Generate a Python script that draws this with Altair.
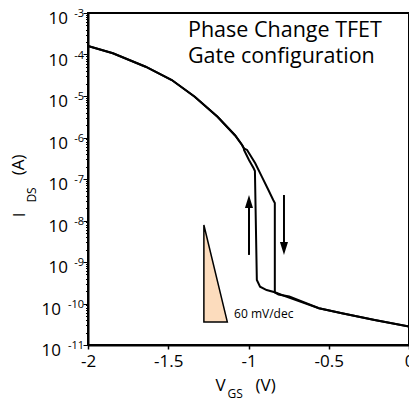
import altair as alt
import pandas as pd

FONT = "Open Sans"

# ---- I-V curve (V in volts, I in amperes) ----
common_v = [-2.0, -1.845, -1.641, -1.478, -1.335, -1.193, -1.083, -1.040, -1.029]
common_i = [1.60e-4, 1.07e-4, 5.08e-5, 2.43e-5, 9.6e-6, 3.17e-6, 1.12e-6, 6.6e-7, 5.5e-7]

up_v = [-1.028, -0.997, -0.968, -0.960, -0.948, -0.928, -0.887, -0.836, -0.765]
up_i = [5.0e-7, 2.87e-7, 1.81e-7, 1.56e-7, 3.68e-10, 2.54e-10, 2.11e-10, 1.86e-10, 1.46e-10]

down_v = [-1.009, -0.958, -0.917, -0.876, -0.846, -0.836, -0.836, -0.813, -0.746]
down_i = [5.0e-7, 2.39e-7, 1.14e-7, 5.43e-8, 3.12e-8, 2.64e-8, 1.86e-10, 1.65e-10, 1.48e-10]

tail_v = [-0.561, -0.418, -0.214, 0.0]
tail_i = [7.7e-11, 5.8e-11, 4.0e-11, 2.8e-11]

# ---- slope triangle ----
tri_v = [-1.278, -1.132]
tri_i = [7.8e-9, 3.6e-11]
tri_i2 = [3.6e-11, 3.6e-11]

# ---- sweep arrows ----
arrow_v = [-0.997, -0.779]
arrow_from = [1.48e-9, 4.11e-8]
arrow_to = [2.36e-8, 2.57e-9]
head_i = [2.87e-8, 2.11e-9]

# ---- axis tick labels ----
decades = [-3, -4, -5, -6, -7, -8, -9, -10, -11]
x_ticks = [-2, -1.5, -1, -0.5, 0]

rows = []
for name, bv, bi in [("up", up_v, up_i), ("down", down_v, down_i)]:
    vs = common_v + bv + tail_v
    cs = common_i + bi + tail_i
    for k, (v, c) in enumerate(zip(vs, cs)):
        rows.append({"sweep": name, "order": k, "V": v, "I": c})
curve = pd.DataFrame(rows)

xs = alt.Scale(domain=[-2, 0], nice=False)
ys = alt.Scale(type="log", domain=[1e-11, 1e-3], nice=False)

y_tick_vals = [m * 10.0 ** e for e in range(-11, -3) for m in range(1, 10)] + [1e-3]

xaxis = alt.Axis(values=x_ticks, title=None, grid=False, domainColor="black", domainWidth=2,
                 tickColor="black", tickSize=4, tickWidth=1.5, labelFont=FONT, labelFontSize=17,
                 labelColor="black", labelPadding=4, labelExpr="'' + datum.value", labelFlush=False)
yaxis = alt.Axis(values=y_tick_vals, title=None, grid=False, labels=False, domainColor="black",
                 domainWidth=2, tickColor="black", tickWidth=1,
                 tickSize={"condition": {"test": "abs(log(datum.value)/LN10 - round(log(datum.value)/LN10)) < 0.001",
                                         "value": 5}, "value": 2.5})


def X(f):
    return alt.X(f, type="quantitative", scale=xs, axis=xaxis)


def Y(f):
    return alt.Y(f, type="quantitative", scale=ys, axis=yaxis)


tri_df = pd.DataFrame({"V": tri_v, "I": tri_i, "I2": tri_i2})
triangle = alt.Chart(tri_df).mark_area(fill="#FCDCBD", stroke="black", strokeWidth=1.5, opacity=1).encode(
    x=X("V"), y=Y("I"), y2="I2")

lines = alt.Chart(curve).mark_line(color="black", strokeWidth=2).encode(
    x=X("V"), y=Y("I"), detail="sweep:N", order="order:Q")

arr_df = pd.DataFrame({"V": arrow_v, "I": arrow_from, "I2": arrow_to, "H": head_i,
                       "dir": ["up", "down"]})
shafts = alt.Chart(arr_df).mark_rule(color="black", strokeWidth=2).encode(
    x=X("V"), y=Y("I"), y2="I2")
head_up = alt.Chart(arr_df).mark_point(shape="M0,-1L0.62,1L-0.62,1Z", filled=True, size=169,
                                       color="black", opacity=1).encode(
    x=X("V"), y=Y("H")).transform_filter("datum.dir == 'up'")
head_down = alt.Chart(arr_df).mark_point(shape="M0,1L0.62,-1L-0.62,-1Z", filled=True, size=169,
                                         color="black", opacity=1).encode(
    x=X("V"), y=Y("H")).transform_filter("datum.dir == 'down'")

lab = pd.DataFrame({"V": [-2] * len(decades), "I": [10.0 ** e for e in decades],
                    "base": ["10"] * len(decades), "exp": [str(e) for e in decades],
                    "wide": [e <= -10 for e in decades]})
ten_narrow = alt.Chart(lab).mark_text(align="right", baseline="middle", dx=-20, dy=6, font=FONT,
                                      fontSize=17, color="black").encode(
    x=X("V"), y=Y("I"), text="base:N").transform_filter("!datum.wide")
ten_wide = alt.Chart(lab).mark_text(align="right", baseline="middle", dx=-27, dy=6, font=FONT,
                                    fontSize=17, color="black").encode(
    x=X("V"), y=Y("I"), text="base:N").transform_filter("datum.wide")
exps = alt.Chart(lab).mark_text(align="right", baseline="middle", dx=-4, dy=1, font=FONT,
                                fontSize=11, color="black").encode(
    x=X("V"), y=Y("I"), text="exp:N")

# annotation texts: anchor in data space, pixel offsets for sub/superscripts
ann = pd.DataFrame({
    "V": [-1.377, -1.377, -1.09, -1.205, -1.205, -1.205, -2, -2, -2],
    "I": [2.64e-4, 2.64e-4, 5.7e-11, 1e-11, 1e-11, 1e-11, 1.36e-8, 1.36e-8, 1.36e-8],
    "t": ["Phase Change TFET", "Gate configuration", "60 mV/dec", "V", "GS", "(V)", "I", "DS", "(A)"],
    "k": ["t1", "t2", "slope", "xv", "xgs", "xu", "yi", "yds", "yu"],
})


def txt(key, **kw):
    base = dict(font=FONT, color="black")
    base.update(kw)
    return alt.Chart(ann).mark_text(**base).encode(x=X("V"), y=Y("I"), text="t:N").transform_filter(
        f"datum.k == '{key}'")


texts = [
    txt("t1", align="left", baseline="alphabetic", fontSize=21.5),
    txt("t2", align="left", baseline="alphabetic", fontSize=21.5, dy=26),
    txt("slope", align="left", baseline="middle", fontSize=12),
    txt("xv", align="left", baseline="middle", fontSize=17, dy=41),
    txt("xgs", align="left", baseline="middle", fontSize=12, dx=12, dy=49),
    txt("xu", align="left", baseline="middle", fontSize=17, dx=40, dy=41),
    txt("yi", align="center", baseline="middle", fontSize=17, angle=270, dx=0, dy=-68),
    txt("yds", align="center", baseline="middle", fontSize=12, angle=270, dx=20, dy=-56),
    txt("yu", align="center", baseline="middle", fontSize=17, angle=270, dx=50, dy=-69),
]

chart = alt.layer(triangle, lines, shafts, head_up, head_down, ten_narrow, ten_wide, exps, *texts).properties(
    width=321, height=332,
    autosize=alt.AutoSizeParams(type="none"),
    padding={"left": 80, "top": 5, "right": 0, "bottom": 55},
).configure_view(stroke="black", strokeWidth=2)

chart.save("out.html", embed_options={"renderer": "svg", "actions": False})
